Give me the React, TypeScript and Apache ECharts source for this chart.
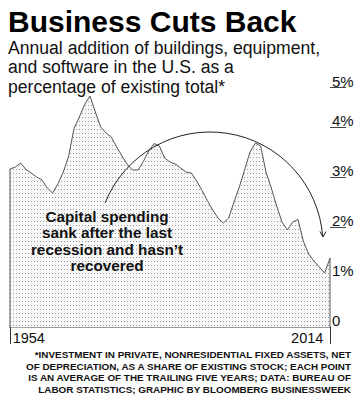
import React, { useEffect, useRef } from "react";
import * as echarts from "echarts";

const FIRST_YEAR = 1954;
const LAST_YEAR = 2014;
const years: string[] = [];
for (let y = FIRST_YEAR; y <= LAST_YEAR; y++) years.push(String(y));

// Net investment as % of existing stock, trailing five-year average
const netInvestmentPct = [
  3.16, 3.2, 3.28, 3.15, 3.08, 3.0, 2.94, 2.78, 2.68, 2.87,
  3.1, 3.42, 3.97, 4.2, 4.45, 4.62, 4.3, 4.0, 3.88, 3.8,
  3.6, 3.42, 3.25, 3.14, 3.14, 3.31, 3.52, 3.67, 3.62, 3.38,
  3.3, 3.26, 3.18, 3.1, 3.08, 2.92, 2.73, 2.53, 2.34, 2.18,
  2.08, 2.18, 2.5, 2.8, 3.15, 3.5, 3.68, 3.62, 3.1, 2.78,
  2.42, 2.1, 1.94, 2.1, 2.15, 1.72, 1.46, 1.32, 1.2, 1.08,
  1.38,
];

const yLabelValues = [0, 1, 2, 3, 4];
const darkTickValues = [2, 3, 4];
const greyTickValues = [0, 1];
const topLabelValue = 5;

const titleText = "Business Cuts Back";
const subtitleLines = [
  "Annual addition of buildings, equipment,",
  "and software in the U.S. as a",
  "percentage of existing total*",
];
const annotationLines = [
  "Capital spending",
  "sank after the last",
  "recession and hasn\u2019t",
  "recovered",
];
const footnoteLines = [
  "*INVESTMENT IN PRIVATE, NONRESIDENTIAL FIXED ASSETS, NET",
  "OF DEPRECIATION, AS A SHARE OF EXISTING STOCK; EACH POINT",
  "IS AN AVERAGE OF THE TRAILING FIVE YEARS; DATA: BUREAU OF",
  "LABOR STATISTICS; GRAPHIC BY BLOOMBERG BUSINESSWEEK",
];

const FONT = "'Liberation Sans', Arial, Helvetica, sans-serif";

export default function App() {
  const ref = useRef<HTMLDivElement>(null);

  useEffect(() => {
    document.body.style.margin = "0";
    if (!ref.current) return;
    const chart = echarts.init(ref.current, undefined, { renderer: "svg" });

    const c = document.createElement("canvas");
    c.width = 3;
    c.height = 4;
    const ctx = c.getContext("2d")!;
    ctx.fillStyle = "#f8f8f8";
    ctx.fillRect(0, 0, 3, 4);
    ctx.fillStyle = "#9c9c9c";
    ctx.fillRect(1, 1, 1, 1);
    const pattern = {
      image: c.toDataURL(),
      repeat: "repeat",
      imageWidth: 3,
      imageHeight: 4,
    };

    const last = netInvestmentPct.length - 1;
    const edgeValues = netInvestmentPct.map((v, i) =>
      i === 0 || i === last ? v : null
    );
    const isEnd = (i: number) => i === 0 || i === last;

    const gridRect = { left: 10, right: 30, top: 77, bottom: 73, outerBoundsMode: "none" };

    const option: any = {
      animation: false,
      grid: [gridRect, { ...gridRect }],
      xAxis: [
        {
          gridIndex: 0,
          type: "category",
          data: years,
          boundaryGap: false,
          axisLine: { show: true, lineStyle: { color: "#9a9a9a", width: 2 } },
          axisTick: {
            show: true,
            interval: (i: number) => isEnd(i),
            length: 17,
            lineStyle: { color: "#333", width: 1 },
          },
          axisLabel: {
            interval: (i: number) => isEnd(i),
            margin: 3,
            color: "#111",
            fontFamily: FONT,
            fontSize: 14.5,
            formatter: (v: string) =>
              v === years[0] ? `{l|${v}}` : `{r|${v}}`,
            rich: {
              l: { padding: [0, 0, 0, 37.6], fontSize: 14.5, fontFamily: FONT, color: "#111" },
              r: { padding: [0, 45.6, 0, 0], fontSize: 14.5, fontFamily: FONT, color: "#111" },
            },
          },
          splitLine: { show: false },
        },
        { gridIndex: 1, type: "value", show: false },
      ],
      yAxis: [
        {
          gridIndex: 0,
          type: "value",
          position: "right",
          min: 0,
          max: 5,
          interval: 1,
          axisLine: { show: false },
          splitLine: { show: false },
          axisTick: {
            show: true,
            customValues: darkTickValues,
            length: 16,
            lineStyle: { color: "#444", width: 1 },
          },
          axisLabel: {
            customValues: yLabelValues,
            formatter: (v: number) => (v === 0 ? "0" : `${v}%`),
            verticalAlign: "bottom",
            margin: 2,
            fontSize: 15,
            lineHeight: 13,
            color: "#111",
            fontFamily: FONT,
          },
        },
        {
          gridIndex: 1,
          type: "value",
          position: "right",
          min: 0,
          max: 5,
          interval: 1,
          axisLine: { show: false },
          splitLine: { show: false },
          axisTick: {
            show: true,
            customValues: greyTickValues,
            length: 16,
            lineStyle: { color: "#a8a8a8", width: 2 },
          },
          axisLabel: {
            customValues: [topLabelValue],
            formatter: (v: number) => `{s|}\n{a|${v}%}\n{u|}`,
            verticalAlign: "middle",
            align: "left",
            margin: 0,
            rich: {
              s: { width: 1, height: 9, lineHeight: 9 },
              a: { fontSize: 15, lineHeight: 12, height: 12, color: "#111", fontFamily: FONT, padding: [0, 0, 0, 2] },
              u: { width: 16, height: 1, lineHeight: 1, backgroundColor: "#444" },
            },
          },
        },
      ],
      series: [
        {
          type: "line",
          xAxisIndex: 0,
          yAxisIndex: 0,
          data: netInvestmentPct,
          symbol: "none",
          lineStyle: { color: "#555", width: 1 },
          areaStyle: { color: pattern, opacity: 1 },
          silent: true,
          z: 2,
        },
        {
          type: "bar",
          xAxisIndex: 0,
          yAxisIndex: 0,
          data: edgeValues,
          barWidth: 1,
          itemStyle: { color: "#555" },
          silent: true,
          z: 3,
        },
      ],
      graphic: [
        {
          type: "text",
          x: 8,
          y: 21,
          z: 100,
          style: {
            text: titleText,
            fill: "#000",
            font: `bold 30px ${FONT}`,
            align: "left",
            verticalAlign: "middle",
          },
        },
        {
          type: "text",
          x: 8,
          y: 67.3,
          z: 100,
          style: {
            text: subtitleLines.join("\n"),
            fill: "#111",
            font: `17.6px ${FONT}`,
            lineHeight: 19.5,
            align: "left",
            verticalAlign: "middle",
          },
        },
        {
          type: "text",
          x: 107,
          y: 241,
          z: 100,
          style: {
            text: annotationLines.join("\n"),
            fill: "#111",
            font: `bold 15.3px ${FONT}`,
            lineHeight: 16.5,
            align: "center",
            verticalAlign: "middle",
          },
        },
        {
          type: "arc",
          z: 100,
          shape: {
            cx: 210,
            cy: 245,
            r: 113,
            startAngle: -2.761,
            endAngle: -0.075,
            clockwise: true,
          },
          style: { stroke: "#222", lineWidth: 1, fill: null },
        },
        {
          type: "polyline",
          z: 100,
          shape: { points: [[320, 231.5], [323, 237], [326, 231.5]] },
          style: { stroke: "#222", lineWidth: 1, fill: null },
        },
        {
          type: "text",
          x: 351,
          y: 372,
          z: 100,
          style: {
            text: footnoteLines.join("\n"),
            fill: "#111",
            font: `bold 9.9px ${FONT}`,
            lineHeight: 11.5,
            align: "right",
            verticalAlign: "middle",
          },
        },
      ],
    };

    chart.setOption(option);
    return () => chart.dispose();
  }, []);

  return (
    <div
      ref={ref}
      style={{ position: "absolute", left: 0, top: 0, width: 360, height: 400 }}
    />
  );
}
